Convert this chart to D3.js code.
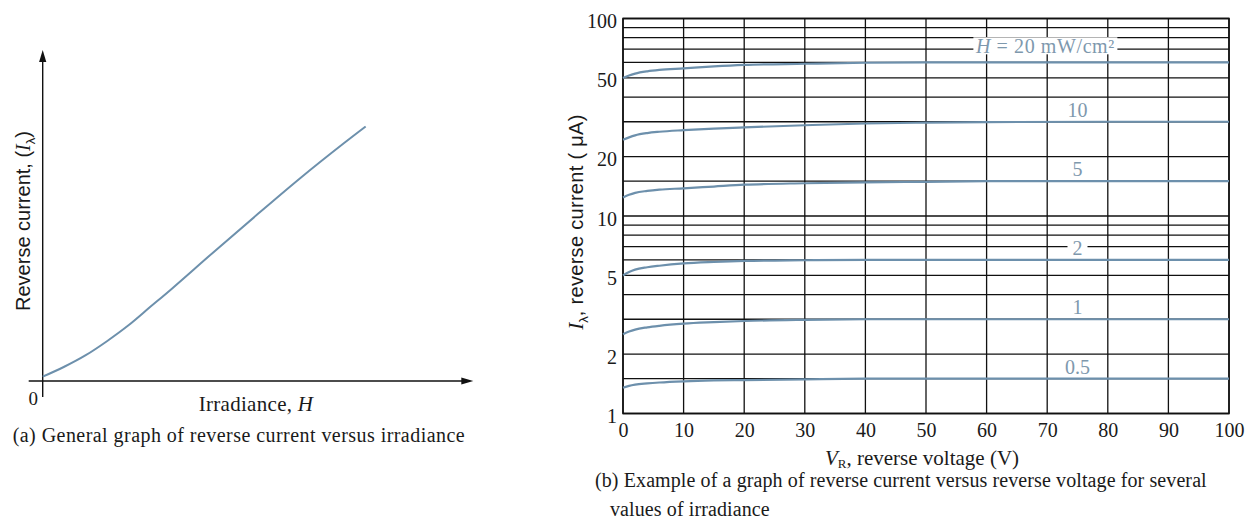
<!DOCTYPE html>
<html>
<head>
<meta charset="utf-8">
<script src="https://cdn.jsdelivr.net/npm/d3@7"></script>
<style>
  html, body { margin: 0; padding: 0; background: #fff; }
  svg { display: block; }
  text { font-family: "Liberation Serif", "Times New Roman", serif; fill: #1a1a1a; }
  .sans { font-family: "Liberation Sans", Arial, sans-serif; }
</style>
</head>
<body>
<svg id="chart" width="1256" height="529"></svg>
<script>
// ---------------- data ----------------
// (a) general curve, arbitrary units
const irradiance = [0, 0.5, 1, 1.5, 2, 2.5, 3, 4, 5, 6, 7, 7.5];
const currentA   = [0.13, 0.43, 0.78, 1.21, 1.69, 2.24, 2.79, 3.93, 5.05, 6.15, 7.19, 7.69];

// (b) reverse current (µA) vs reverse voltage (V)
const voltages = [0, 1, 2, 4, 6, 10, 15, 20, 30, 40, 50, 60, 80, 100];
const curve20  = [50.0, 51.5, 52.6, 54.0, 54.9, 55.9, 57.2, 58.2, 59.0, 59.7, 60, 60, 60, 60];
const curve10  = [24.3, 25.0, 25.6, 26.3, 26.7, 27.2, 27.7, 28.1, 28.8, 29.4, 29.7, 29.9, 30, 30];
const curve5   = [12.4, 12.8, 13.1, 13.4, 13.6, 13.8, 14.1, 14.4, 14.65, 14.8, 14.9, 15, 15, 15];
const curve2   = [5.0, 5.2, 5.35, 5.5, 5.6, 5.75, 5.85, 5.92, 5.97, 6, 6, 6, 6, 6];
const curve1   = [2.52, 2.6, 2.66, 2.73, 2.78, 2.85, 2.9, 2.94, 2.98, 3, 3, 3, 3, 3];
const curve05  = [1.35, 1.38, 1.40, 1.42, 1.435, 1.455, 1.47, 1.477, 1.49, 1.5, 1.5, 1.5, 1.5, 1.5];
const curveLabels = ["H = 20 mW/cm²", "10", "5", "2", "1", "0.5"];

const yTickValues = [1, 2, 5, 10, 20, 50, 100];
const yGridValues = [1, 1.5, 2, 3, 4, 5, 6, 7, 8, 9, 10, 15, 20, 30, 40, 50, 60, 70, 80, 90, 100];
const xTickValues = [0, 10, 20, 30, 40, 50, 60, 70, 80, 90, 100];

// ---------------- drawing ----------------
const svg = d3.select("#chart");
const curveColor = "#6d90ac";
const labelColor = "#7e98ad";

// ===== (a) =====
const ax = d3.scaleLinear().domain([0, 10]).range([42.7, 473.3]);
const ay = d3.scaleLinear().domain([0, 10]).range([381, 50]);
const ga = svg.append("g");

// axes
ga.append("line").attr("x1", ax(0)).attr("x2", ax(0))
  .attr("y1", ay(10) + 6).attr("y2", ay(0) + 16)
  .attr("stroke", "#111").attr("stroke-width", 1.4);
ga.append("line").attr("x1", ax(0) - 14).attr("x2", ax(10) - 6)
  .attr("y1", ay(0)).attr("y2", ay(0))
  .attr("stroke", "#111").attr("stroke-width", 1.4);
// arrowheads
ga.append("path")
  .attr("d", `M${ax(0)},${ay(10)} L${ax(0) - 3.6},${ay(10) + 12} L${ax(0) + 3.6},${ay(10) + 12} Z`)
  .attr("fill", "#111");
ga.append("path")
  .attr("d", `M${ax(10)},${ay(0)} L${ax(10) - 12},${ay(0) - 3.6} L${ax(10) - 12},${ay(0) + 3.6} Z`)
  .attr("fill", "#111");

// curve
const lineA = d3.line().x((d, i) => ax(irradiance[i])).y(d => ay(d)).curve(d3.curveCatmullRom);
ga.append("path").datum(currentA).attr("d", lineA)
  .attr("fill", "none").attr("stroke", curveColor).attr("stroke-width", 2);

// texts
ga.append("text").attr("x", 33.3).attr("y", 405).attr("text-anchor", "middle")
  .style("font-size", "19px").text("0");
const xt = ga.append("text").attr("x", 256).attr("y", 411).attr("text-anchor", "middle")
  .style("font-size", "21px").style("letter-spacing", "0.3px");
xt.append("tspan").text("Irradiance, ");
xt.append("tspan").style("font-style", "italic").text("H");

const yt = ga.append("text").attr("transform", "translate(30,221) rotate(-90)")
  .attr("text-anchor", "middle").attr("class", "sans").style("font-size", "20px");
yt.append("tspan").text("Reverse current, (");
yt.append("tspan").style("font-style", "italic").style("font-family", "Liberation Serif, serif").text("I");
yt.append("tspan").attr("dy", 5).style("font-size", "13px").text("λ");
yt.append("tspan").attr("dy", -5).text(")");

ga.append("text").attr("x", 12.7).attr("y", 442).style("font-size", "20px")
  .style("letter-spacing", "0.45px")
  .text("(a) General graph of reverse current versus irradiance");

// ===== (b) =====
const x = d3.scaleLinear().domain([0, 100]).range([623, 1229]);
const y = d3.scaleLog().domain([1, 100]).range([413.5, 18.5]);
const gb = svg.append("g");

// horizontal gridlines
gb.append("g").selectAll("line").data(yGridValues).join("line")
  .attr("x1", x(0)).attr("x2", x(100))
  .attr("y1", d => y(d)).attr("y2", d => y(d))
  .attr("stroke", "#111").attr("stroke-width", 1.3);
// vertical gridlines
gb.append("g").selectAll("line").data(xTickValues).join("line")
  .attr("x1", d => x(d)).attr("x2", d => x(d))
  .attr("y1", y(100)).attr("y2", y(1))
  .attr("stroke", "#111").attr("stroke-width", 1.3);
// border
gb.append("rect").attr("x", x(0)).attr("y", y(100))
  .attr("width", x(100) - x(0)).attr("height", y(1) - y(100))
  .attr("fill", "none").attr("stroke", "#111").attr("stroke-width", 1.6);

// curves
const curves = [curve20, curve10, curve5, curve2, curve1, curve05];
const lineB = d3.line().x((d, i) => x(voltages[i])).y(d => y(d)).curve(d3.curveMonotoneX);
gb.append("g").selectAll("path").data(curves).join("path")
  .attr("d", lineB).attr("fill", "none")
  .attr("stroke", curveColor).attr("stroke-width", 2.2);

// curve labels with white background
const lab = gb.append("g").selectAll("g").data(curves).join("g")
  .attr("transform", (d, i) => {
    const lx = i === 0 ? x(69.7) : x(75);
    const ly = y(d[d.length - 1]) - (i === 0 ? 16 : 12);
    return `translate(${lx},${ly})`;
  });
lab.append("rect")
  .attr("x", (d, i) => i === 0 ? -72 : (curveLabels[i].length * -6 - 4))
  .attr("width", (d, i) => i === 0 ? 144 : (curveLabels[i].length * 12 + 8))
  .attr("y", -9).attr("height", 17).attr("fill", "#fff");
lab.append("text").attr("text-anchor", "middle").attr("dy", "0.35em")
  .style("font-size", "20px").style("fill", labelColor)
  .each(function(d, i) {
    const t = d3.select(this);
    if (i === 0) {
      t.style("letter-spacing", "0.6px");
      t.append("tspan").style("font-style", "italic").text("H");
      t.append("tspan").text(" = 20 mW/cm²");
    } else {
      t.text(curveLabels[i]);
    }
  });

// axes (ticks labels)
const yAxis = d3.axisLeft(y).tickValues(yTickValues).tickSize(0).tickPadding(6)
  .tickFormat(d3.format("d"));
const gy = gb.append("g").attr("transform", `translate(${x(0)},0)`).call(yAxis);
gy.select(".domain").remove();
gy.selectAll("text").style("font-family", "Liberation Serif, serif")
  .style("font-size", "20px").attr("dy", "0.45em").attr("fill", "#1a1a1a");

const xAxis = d3.axisBottom(x).tickValues(xTickValues).tickSize(0).tickPadding(9)
  .tickFormat(d3.format("d"));
const gx = gb.append("g").attr("transform", `translate(0,${y(1)})`).call(xAxis);
gx.select(".domain").remove();
gx.selectAll("text").style("font-family", "Liberation Serif, serif")
  .style("font-size", "20px").attr("fill", "#1a1a1a");

// axis titles
const xTitle = gb.append("text").attr("x", 922).attr("y", 465).attr("text-anchor", "middle")
  .style("font-size", "21px");
xTitle.append("tspan").style("font-style", "italic").text("V");
xTitle.append("tspan").attr("dy", 3).style("font-size", "13px").text("R");
xTitle.append("tspan").attr("dy", -3).text(", reverse voltage (V)");

const yTitle = gb.append("text").attr("transform", "translate(583,222) rotate(-90)")
  .attr("text-anchor", "middle").style("font-size", "20px");
yTitle.append("tspan").style("font-style", "italic").style("font-size", "21px").text("I");
yTitle.append("tspan").attr("dy", 5).attr("class", "sans").style("font-size", "13px").text("λ");
yTitle.append("tspan").attr("dy", -5).attr("class", "sans").style("letter-spacing", "0.3px")
  .text(", reverse current ( μA)");

// caption
gb.append("text").attr("x", 595).attr("y", 487).style("font-size", "20px")
  .style("letter-spacing", "0.1px")
  .text("(b) Example of a graph of reverse current versus reverse voltage for several");
gb.append("text").attr("x", 610).attr("y", 516).style("font-size", "20px")
  .style("letter-spacing", "0.1px")
  .text("values of irradiance");
</script>
</body>
</html>
